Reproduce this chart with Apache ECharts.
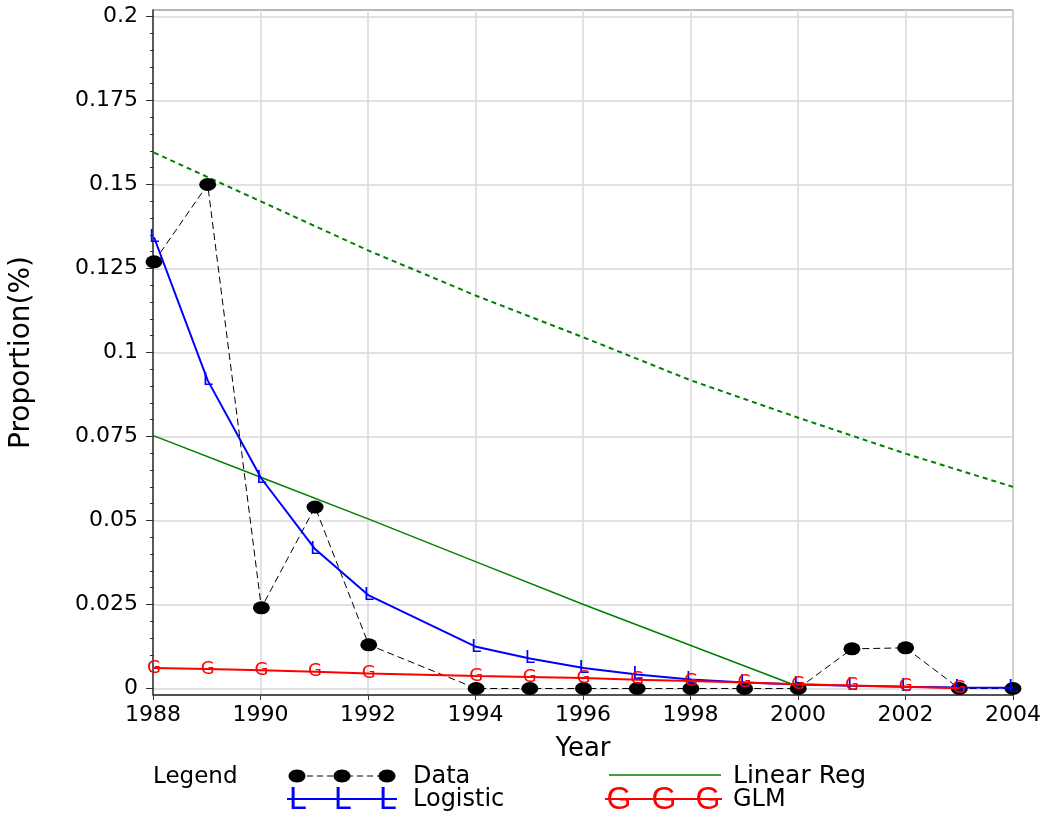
<!DOCTYPE html>
<html>
<head>
<meta charset="utf-8">
<script src="https://cdn.jsdelivr.net/npm/echarts@6/dist/echarts.min.js"></script>
<style>html,body{margin:0;padding:0;background:#fff;}#c{width:1045px;height:814px;}</style>
</head>
<body>
<div id="c"></div>
<script>
// Observed data (1993 not observed)
const dataYears = [1988,1989,1990,1991,1992,1994,1995,1996,1997,1998,1999,2000,2001,2002,2003,2004];
const dataValues = [0.127,0.150,0.024,0.054,0.013,0,0,0,0,0,0,0,0.0118,0.0121,0,0];

// Logistic fit
const logisticYears = [1988,1989,1990,1991,1992,1994,1995,1996,1997,1998,1999,2000,2001,2002,2003,2004];
const logisticValues = [0.1343,0.0917,0.0625,0.0415,0.0277,0.0124,0.0089,0.0061,0.0042,0.0027,0.0018,0.0012,0.0008,0.0005,0.0003,0.0002];

// GLM fit
const glmYears = [1988,1989,1990,1991,1992,1994,1995,1996,1997,1998,1999,2000,2001,2002,2003];
const glmValues = [0.0061,0.0058,0.0054,0.0050,0.0045,0.0037,0.0034,0.0031,0.0026,0.0022,0.0018,0.0013,0.0009,0.0005,0.0001];

// Linear regression (solid)
const linYears = [1988,1990,1992,1994,1996,1998,2000];
const linValues = [0.0752,0.0628,0.0504,0.0377,0.0250,0.0128,0.0006];

// Upper curve (dashed green)
const upperYears = [1988,1990,1992,1994,1996,1998,2000,2002,2004];
const upperValues = [0.1595,0.1449,0.1303,0.1169,0.1045,0.0917,0.0806,0.0699,0.0600];

// Tick labels
const yTickValues = [0,0.025,0.05,0.075,0.1,0.125,0.15,0.175,0.2];
const yTickLabels = ['0','0.025','0.05','0.075','0.1','0.125','0.15','0.175','0.2'];

const pairs = (xs, ys) => xs.map((x, i) => [x, ys[i]]);
const FONT = '"DejaVu Sans", "Liberation Sans", Arial, sans-serif';
const AFONT = '"Liberation Sans", Arial, sans-serif';

const chart = echarts.init(document.getElementById('c'), null, {renderer: 'canvas'});

const option = {
  backgroundColor: '#ffffff',
  animation: false,
  grid: [
    {left: 153, top: 10, width: 860, height: 685, show: true, borderColor: '#6e6e6e', borderWidth: 1, backgroundColor: 'transparent'},
    {left: 153, top: 16.5, width: 860, height: 672}
  ],
  xAxis: [
    {
      gridIndex: 0, type: 'value', min: 1988, max: 2004, interval: 2,
      axisLine: {show: true, lineStyle: {color: '#333', width: 1.5}},
      axisTick: {show: true, length: 5, lineStyle: {color: '#333'}},
      axisLabel: {show: true, color: '#000', fontSize: 22, fontFamily: FONT, margin: 9, formatter: v => String(v)},
      splitLine: {show: true, lineStyle: {color: '#d9d9d9', width: 1.5}},
      name: 'Year', nameLocation: 'middle', nameGap: 41,
      nameTextStyle: {color: '#000', fontSize: 26, fontFamily: FONT}
    },
    {
      gridIndex: 1, type: 'value', min: 1988, max: 2004, interval: 2, show: false
    }
  ],
  yAxis: [
    {
      gridIndex: 0, type: 'value', min: 0, max: 1,
      axisLine: {show: true, lineStyle: {color: '#333', width: 1.5}},
      axisTick: {show: false}, axisLabel: {show: false}, splitLine: {show: false}
    },
    {
      gridIndex: 1, type: 'value', min: 0, max: 0.2, interval: 0.025,
      axisLine: {show: false},
      axisTick: {show: true, length: 8, lineStyle: {color: '#333'}},
      minorTick: {show: true, splitNumber: 5, length: 4, lineStyle: {color: '#333'}},
      axisLabel: {show: true, color: '#000', fontSize: 22, fontFamily: FONT, margin: 16,
        formatter: v => { const i = yTickValues.findIndex(t => Math.abs(t - v) < 1e-9); return i >= 0 ? yTickLabels[i] : ''; }},
      splitLine: {show: true, lineStyle: {color: '#d9d9d9', width: 1.5}},
      name: 'Proportion(%)', nameLocation: 'middle', nameGap: 118, nameRotate: 90,
      nameTextStyle: {color: '#000', fontSize: 28, fontFamily: FONT}
    }
  ],
  series: [
    {
      name: 'Upper', type: 'line', xAxisIndex: 1, yAxisIndex: 1,
      data: pairs(upperYears, upperValues), symbol: 'none',
      lineStyle: {color: '#008000', width: 2, type: [5, 4]}, z: 2
    },
    {
      name: 'Data', type: 'line', xAxisIndex: 1, yAxisIndex: 1,
      data: pairs(dataYears, dataValues),
      symbol: 'circle', symbolSize: [17, 13],
      itemStyle: {color: '#000'},
      lineStyle: {color: '#000', width: 1, type: [7, 4]}, z: 3
    },
    {
      name: 'Linear Reg', type: 'line', xAxisIndex: 1, yAxisIndex: 1,
      data: pairs(linYears, linValues), symbol: 'none',
      lineStyle: {color: '#008000', width: 1.5}, z: 4
    },
    {
      name: 'Logistic', type: 'line', xAxisIndex: 1, yAxisIndex: 1,
      data: pairs(logisticYears, logisticValues),
      symbol: 'circle', symbolSize: 1, itemStyle: {color: 'rgba(0,0,0,0)'},
      label: {show: true, position: 'inside', formatter: 'L', color: '#0000ff', fontSize: 18, fontFamily: FONT},
      lineStyle: {color: '#0000ff', width: 2}, z: 5
    },
    {
      name: 'GLM', type: 'line', xAxisIndex: 1, yAxisIndex: 1,
      data: pairs(glmYears, glmValues),
      symbol: 'circle', symbolSize: 1, itemStyle: {color: 'rgba(0,0,0,0)'},
      label: {show: true, position: 'inside', formatter: 'G', color: '#ff0000', fontSize: 18, fontFamily: FONT},
      lineStyle: {color: '#ff0000', width: 2}, z: 6
    }
  ],
  graphic: [
    {type: 'text', x: 153, y: 777, style: {text: 'Legend', fill: '#000', font: '23px ' + FONT, textVerticalAlign: 'middle'}},
    // Data sample
    {type: 'line', shape: {x1: 297, y1: 776, x2: 387, y2: 776}, style: {stroke: '#000', lineWidth: 1, lineDash: [6, 4]}},
    {type: 'ellipse', shape: {cx: 297, cy: 776, rx: 8.5, ry: 6.5}, style: {fill: '#000'}},
    {type: 'ellipse', shape: {cx: 342, cy: 776, rx: 8.5, ry: 6.5}, style: {fill: '#000'}},
    {type: 'ellipse', shape: {cx: 387, cy: 776, rx: 8.5, ry: 6.5}, style: {fill: '#000'}},
    {type: 'text', x: 413, y: 777, style: {text: 'Data', fill: '#000', font: '24px ' + FONT, textVerticalAlign: 'middle'}},
    // Logistic sample
    {type: 'line', shape: {x1: 287, y1: 799, x2: 397, y2: 799}, style: {stroke: '#0000ff', lineWidth: 2}},
    {type: 'text', x: 298, y: 800, style: {text: 'L', fill: '#0000ff', font: '32px ' + AFONT, textAlign: 'center', textVerticalAlign: 'middle'}},
    {type: 'text', x: 343, y: 800, style: {text: 'L', fill: '#0000ff', font: '32px ' + AFONT, textAlign: 'center', textVerticalAlign: 'middle'}},
    {type: 'text', x: 388, y: 800, style: {text: 'L', fill: '#0000ff', font: '32px ' + AFONT, textAlign: 'center', textVerticalAlign: 'middle'}},
    {type: 'text', x: 413, y: 800, style: {text: 'Logistic', fill: '#000', font: '24px ' + FONT, textVerticalAlign: 'middle'}},
    // Linear Reg sample
    {type: 'line', shape: {x1: 609, y1: 775, x2: 721, y2: 775}, style: {stroke: '#008000', lineWidth: 1.5}},
    {type: 'text', x: 733, y: 776, style: {text: 'Linear Reg', fill: '#000', font: '25px ' + FONT, textVerticalAlign: 'middle'}},
    // GLM sample
    {type: 'line', shape: {x1: 605, y1: 799, x2: 722, y2: 799}, style: {stroke: '#ff0000', lineWidth: 2}},
    {type: 'text', x: 619, y: 800, style: {text: 'G', fill: '#ff0000', font: '32px ' + AFONT, textAlign: 'center', textVerticalAlign: 'middle'}},
    {type: 'text', x: 664, y: 800, style: {text: 'G', fill: '#ff0000', font: '32px ' + AFONT, textAlign: 'center', textVerticalAlign: 'middle'}},
    {type: 'text', x: 708, y: 800, style: {text: 'G', fill: '#ff0000', font: '32px ' + AFONT, textAlign: 'center', textVerticalAlign: 'middle'}},
    {type: 'text', x: 733, y: 800, style: {text: 'GLM', fill: '#000', font: '24px ' + FONT, textVerticalAlign: 'middle'}}
  ]
};
chart.setOption(option);
</script>
</body>
</html>
